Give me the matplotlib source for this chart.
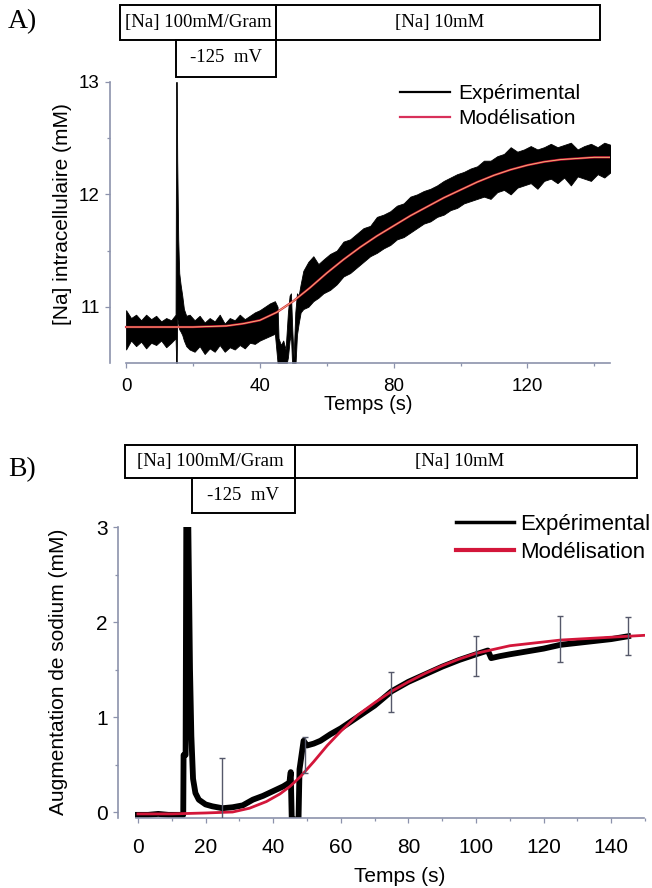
import matplotlib.pyplot as plt
from matplotlib.patches import Rectangle
from matplotlib.lines import Line2D

plt.rcParams['font.family'] = ['Liberation Sans', 'DejaVu Sans']

W, H = 652, 888

# ---- panel A : [Na] intracellulaire, noisy trace given as upper / lower envelope
tA_band = [0, 1.5, 3, 4.5, 6, 7.5, 9, 10.5, 12, 13.5, 14.8,
           15.0, 15.15, 15.3, 15.6, 15.9, 16.3, 16.8, 17.3, 18,
           19, 20.5, 22, 23.5, 25, 26.5, 28, 29.5, 31, 32.5, 34, 35.5, 37, 38.5,
           40, 41.5, 43, 44.5, 45.3,
           45.6, 46.3, 47.0, 47.7, 48.4, 48.9, 49.3, 49.7, 50.1, 50.6, 51.1, 51.6, 52.2,
           53, 54.5, 56, 57.5, 59, 61, 63, 65, 67, 69, 71, 73, 75, 77, 79, 81, 83,
           85, 87, 89, 91, 93, 95, 97, 99, 101, 103, 105, 107, 109, 111, 113, 115,
           117, 119, 121, 123, 125, 127, 129, 131, 133, 135, 137, 139, 141, 143, 145]
hiA = [10.97, 10.9, 10.93, 10.88, 10.93, 10.89, 10.92, 10.87, 10.9, 10.88, 10.93,
       13.0, 13.0, 12.3, 11.6, 11.3, 11.2, 11.1, 10.98, 10.92,
       10.93, 10.88, 10.92, 10.86, 10.9, 10.87, 10.93, 10.85, 10.9, 10.88, 10.93, 10.89, 10.92, 10.95,
       10.97, 11.0, 11.03, 11.05, 11.0,
       10.72, 10.66, 10.7, 10.62, 10.95, 11.1, 11.12, 10.8, 10.55, 10.95, 11.12, 11.1, 11.2,
       11.32, 11.4, 11.45, 11.38, 11.42, 11.47, 11.5, 11.58, 11.6, 11.65, 11.7, 11.72, 11.8, 11.82, 11.85, 11.9, 11.92,
       11.98, 12.0, 12.03, 12.05, 12.08, 12.12, 12.15, 12.18, 12.2, 12.23, 12.25, 12.3, 12.3, 12.34, 12.36, 12.42,
       12.38, 12.4, 12.43, 12.4, 12.42, 12.45, 12.42, 12.44, 12.46, 12.4, 12.43, 12.45, 12.42, 12.46, 12.44]
loA = [10.62, 10.7, 10.65, 10.69, 10.63, 10.68, 10.66, 10.7, 10.64, 10.68, 10.72,
       10.5, 10.5, 10.9, 10.85, 10.8, 10.78, 10.75, 10.7, 10.65,
       10.62, 10.6, 10.65, 10.58, 10.63, 10.6, 10.66, 10.6, 10.64, 10.62, 10.66, 10.63, 10.68, 10.67,
       10.7, 10.72, 10.74, 10.76, 10.5,
       10.45, 10.45, 10.45, 10.45, 10.55, 10.7, 10.75, 10.45, 10.45, 10.45, 10.75, 10.85, 10.95,
       10.98, 11.0, 11.05, 11.08, 11.12, 11.15, 11.2, 11.27, 11.3, 11.35, 11.4, 11.45, 11.48, 11.52, 11.55, 11.6, 11.62,
       11.66, 11.7, 11.74, 11.76, 11.8, 11.82, 11.86, 11.88, 11.92, 11.94, 11.96, 11.98, 11.96, 12.02, 12.04, 12.0,
       12.06, 12.08, 12.1, 12.05, 12.12, 12.14, 12.1, 12.15, 12.08, 12.16, 12.14, 12.12, 12.18, 12.15, 12.2]

tA_mod = [0, 10, 20, 30, 35, 40, 45, 50, 55, 60, 65, 70, 75, 80, 85, 90, 95,
          100, 105, 110, 115, 120, 125, 130, 135, 140, 145]
yA_mod = [10.82, 10.82, 10.82, 10.83, 10.85, 10.88, 10.95, 11.05, 11.17, 11.3, 11.42,
          11.53, 11.63, 11.72, 11.81, 11.89, 11.97, 12.04, 12.11, 12.17, 12.22, 12.26,
          12.29, 12.31, 12.32, 12.33, 12.33]

# ---- panel B : augmentation de sodium
tB = [0, 3, 6, 9, 12, 13.4, 13.5, 14.1, 14.3, 14.9, 15.4, 15.8, 16.3, 17, 18, 20, 22,
      25, 28, 31, 34, 37, 40, 43, 44.8, 45.2, 45.5, 46.5, 47.5, 47.8, 48.4, 49, 50, 52,
      54, 57, 60, 65, 70, 75, 80, 85, 90, 95, 100, 103.5, 104.5, 107, 110, 115, 120,
      125, 130, 135, 140, 145]
yB = [-0.03, -0.03, -0.02, -0.03, -0.03, -0.03, 0.6, 0.6, 3.0, 3.0, 1.5, 0.8, 0.35, 0.2,
      0.13, 0.08, 0.06, 0.04, 0.05, 0.07, 0.13, 0.17, 0.22, 0.27, 0.31, 0.42, -0.08,
      -0.08, -0.08, 0.45, 0.6, 0.75, 0.7, 0.72, 0.75, 0.82, 0.88, 1.0, 1.12, 1.27, 1.37,
      1.45, 1.53, 1.6, 1.66, 1.7, 1.62, 1.64, 1.66, 1.69, 1.72, 1.76, 1.78, 1.8, 1.82, 1.85]

tB_mod = [0, 10, 20, 28, 33, 38, 42, 45, 48, 52, 56, 60, 65, 70, 75, 80, 85, 90, 95,
          100, 105, 110, 120, 125, 130, 140, 150]
yB_mod = [-0.02, -0.02, -0.01, 0.0, 0.04, 0.11, 0.19, 0.27, 0.37, 0.53, 0.7, 0.85, 1.02,
          1.15, 1.27, 1.37, 1.46, 1.54, 1.61, 1.67, 1.71, 1.75, 1.79, 1.81, 1.82, 1.84, 1.86]

tB_err = [25, 49.5, 75, 100, 125, 145]
yB_err = [0.03, 0.6, 1.26, 1.64, 1.82, 1.85]
eB_err = [0.54, 0.19, 0.21, 0.21, 0.24, 0.2]

spine_col = '#8c92ac'
red = '#d3163a'


def px_axes(left, top, right, bottom):
    return [left / W, 1 - bottom / H, (right - left) / W, (bottom - top) / H]


def style(ax, fs):
    for s in ['top', 'right']:
        ax.spines[s].set_visible(False)
    for s in ['left', 'bottom']:
        ax.spines[s].set_color(spine_col)
        ax.spines[s].set_linewidth(1.2)
    ax.tick_params(which='both', colors=spine_col, labelcolor='black', labelsize=fs, width=0.9)
    ax.tick_params(which='major', length=3.5)
    ax.tick_params(which='minor', length=2)
    ax.tick_params(axis='x', pad=9)
    ax.tick_params(axis='y', pad=4)


def boxes(y0, y1, y2, x0, xm, xv, x1):
    for (a, b, c, d) in [(x0, y0, xm, y1), (xm, y0, x1, y1), (xv, y1, xm, y2)]:
        fig.patches.append(Rectangle((a / W, 1 - d / H), (c - a) / W, (d - b) / H,
                                     transform=fig.transFigure, fill=False,
                                     edgecolor='black', linewidth=1.4))


fig = plt.figure(figsize=(W / 100, H / 100), dpi=100)

# ---------------- A
axA = fig.add_axes(px_axes(110, 82, 610, 363))
axA.fill_between(tA_band, loA, hiA, color='black', linewidth=0.6, edgecolor='black')
axA.plot(tA_mod, yA_mod, color=red, lw=1.6)
axA.plot(tA_mod, yA_mod, color='#f0c27a', lw=0.6)
axA.set_xlim(-4.8, 144.7)
axA.set_ylim(10.5, 13.0)
axA.set_xticks([0, 40, 80, 120])
axA.set_xticks([20, 60, 100, 140], minor=True)
axA.set_yticks([11, 12, 13])
axA.set_yticks([11.5, 12.5], minor=True)
axA.spines['bottom'].set_bounds(0, 144.7)
style(axA, 13.5)
axA.tick_params(axis='x', pad=7)
axA.legend(handles=[Line2D([], [], color='black', lw=1.6),
                    Line2D([], [], color='#d8305a', lw=1.6)],
           labels=['Expérimental', 'Modélisation'], loc='upper left',
           bbox_to_anchor=(400 / W, 1 - 84 / H), bbox_transform=fig.transFigure,
           frameon=False, fontsize=15, handlelength=2.4, handletextpad=0.4,
           labelspacing=0.3, borderpad=0, borderaxespad=0)

fig.text(368 / W, 1 - 404 / H, 'Temps (s)', fontsize=14.5, ha='center', va='center')
fig.text(62 / W, 1 - 214 / H, '[Na] intracellulaire (mM)', fontsize=15,
         rotation=90, ha='center', va='center')

# ---------------- B
axB = fig.add_axes(px_axes(118, 527, 645, 818))
axB.plot(tB, yB, color='black', lw=4.2, solid_joinstyle='round')
axB.plot(tB_mod, yB_mod, color=red, lw=2.0)
axB.errorbar(tB_err, yB_err, yerr=eB_err, fmt='none', ecolor='#55586a',
             elinewidth=1.0, capsize=2.5, capthick=1.0, zorder=4)
axB.set_xlim(-5.9, 149.7)
axB.set_ylim(-0.063, 3.0)
axB.set_xticks(list(range(0, 141, 20)))
axB.set_xticks(list(range(10, 151, 20)), minor=True)
axB.set_yticks([0, 1, 2, 3])
axB.set_yticks([0.5, 1.5, 2.5], minor=True)
axB.spines['bottom'].set_bounds(-0.5, 149.7)
style(axB, 15)
axB.tick_params(axis='x', pad=11)
axB.legend(handles=[Line2D([], [], color='black', lw=2.5),
                    Line2D([], [], color=red, lw=3)],
           labels=['Expérimental', 'Modélisation'], loc='upper left',
           bbox_to_anchor=(456 / W, 1 - 514 / H), bbox_transform=fig.transFigure,
           frameon=False, fontsize=16, handlelength=2.6, handletextpad=0.3,
           labelspacing=0.3, borderpad=0, borderaxespad=0)

fig.text(400 / W, 1 - 876 / H, 'Temps (s)', fontsize=15, ha='center', va='center')
fig.text(58 / W, 1 - 672 / H, 'Augmentation de sodium (mM)', fontsize=15,
         rotation=90, ha='center', va='center')

# ---------------- solution / voltage boxes
serif = ['Liberation Serif', 'DejaVu Serif']
boxes(5, 40, 77, 120, 276, 176, 600)
fig.text(198 / W, 1 - 22 / H, '[Na] 100mM/Gram', fontsize=13.5, family=serif, ha='center', va='center')
fig.text(440 / W, 1 - 22 / H, '[Na] 10mM', fontsize=13.5, family=serif, ha='center', va='center')
fig.text(226 / W, 1 - 58 / H, '-125  mV', fontsize=13.5, family=serif, ha='center', va='center')
fig.text(8 / W, 1 - 22 / H, 'A)', fontsize=20, family=serif, ha='left', va='center')

boxes(445, 478, 513, 125, 295, 192, 637)
fig.text(210 / W, 1 - 461 / H, '[Na] 100mM/Gram', fontsize=13.5, family=serif, ha='center', va='center')
fig.text(460 / W, 1 - 461 / H, '[Na] 10mM', fontsize=13.5, family=serif, ha='center', va='center')
fig.text(243 / W, 1 - 495 / H, '-125  mV', fontsize=13.5, family=serif, ha='center', va='center')
fig.text(8 / W, 1 - 470 / H, 'B)', fontsize=20, family=serif, ha='left', va='center')

fig.savefig('out.png', dpi=100)
